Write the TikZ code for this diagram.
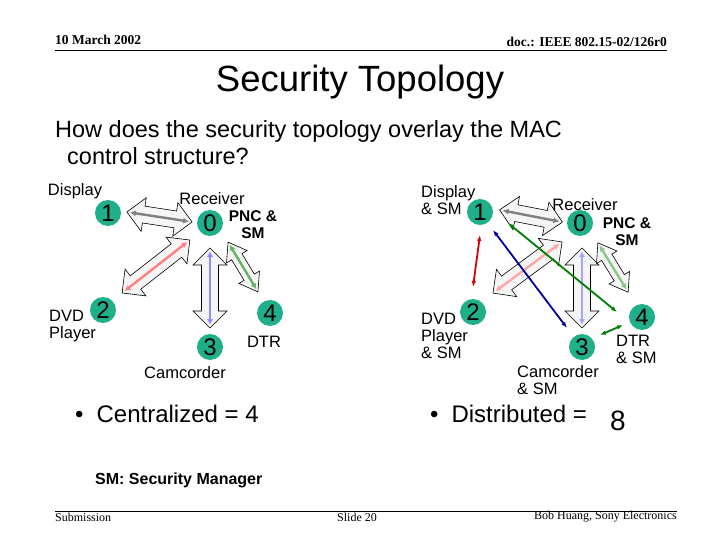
\documentclass[tikz,border=0pt]{standalone}
\usepackage{fontspec}
\setmainfont{Liberation Sans}
\newfontfamily\tms{Liberation Serif}
\usetikzlibrary{arrows.meta}
\definecolor{teal1}{HTML}{1FAF8A}
\tikzset{
 dev/.style={circle,fill=teal1,minimum size=26pt,inner sep=0pt,font=\fontsize{24}{24}\selectfont},
 lbl/.style={font=\fontsize{16.5}{17}\selectfont,align=left,inner sep=0pt},
 bold/.style={font=\bfseries\fontsize{15.5}{17}\selectfont,align=center,inner sep=0pt},
 blockst/.style={draw=black,fill=gray!8,line width=0.6pt},
 tip/.style={line width=2.4pt,{Latex[length=6pt,width=6pt]}-{Latex[length=6pt,width=6pt]}},
 hdr/.style={font=\tms\bfseries\fontsize{13.5}{14}\selectfont,inner sep=0pt},
 ftr/.style={font=\tms\fontsize{12}{13}\selectfont,inner sep=0pt}
}
\newcommand\barrow[5]{%
\begin{scope}[shift={#1},rotate=#2]
\draw[blockst] ({-#3},0) -- ({-#3+17},{2*#5}) -- ({-#3+17},#5) -- ({#3-17},#5) -- ({#3-17},{2*#5}) -- ({#3},0) -- ({#3-17},{-2*#5}) -- ({#3-17},{-#5}) -- ({-#3+17},{-#5}) -- ({-#3+17},{-2*#5}) -- cycle;
\draw[tip,#4] ({-#3+3},0) -- ({#3-3},0);
\end{scope}}
\begin{document}
\begin{tikzpicture}[x=1pt,y=-1pt]
\useasboundingbox (0,0) rectangle (720,540);
% header
\node[hdr,anchor=west] (h1) at (55,40) {10 March 2002};
\node[hdr,anchor=east] (h2) at (667,42) {doc.: IEEE 802.15-02/126r0};
\draw[line width=0.5pt] (55,50) -- (667,50);
\node (title) at (360,82) {\fontsize{36.5}{37}\selectfont Security Topology};
\node[anchor=west,align=left,inner sep=0pt,font=\fontsize{23.5}{27}\selectfont] (q) at (55,143) {How does the security topology overlay the MAC\\\hspace*{12pt}control structure?};
% left diagram
\barrow{(159.5,217)}{-8.7}{33}{gray}{8.5}
\barrow{(156,266.5)}{38}{43}{red!50}{8.5}
\barrow{(210,288)}{90}{40}{blue!45}{8.5}
\barrow{(243,267)}{-59}{29}{green!50!black!60}{6}
\node[dev] (l1) at (108,213) {1};
\node[dev] (l0) at (210,223) {0};
\node[dev] (l2) at (103,310) {2};
\node[dev] (l3) at (210,347) {3};
\node[dev] (l4) at (270,313) {4};
\node[lbl] (ld) at (75,191) {Display};
\node[lbl] (lr) at (212,199) {Receiver};
\node[bold] (lp) at (253,225) {PNC \&\\SM};
\node[lbl,anchor=west] (ldvd) at (49,326) {DVD\\Player};
\node[lbl] (ldtr) at (264,342) {DTR};
\node[lbl] (lc) at (185,373) {Camcorder};
% right diagram
\barrow{(531,216)}{-11}{32}{gray}{8.5}
\barrow{(527.5,267.5)}{36.5}{43}{red!35}{8.5}
\barrow{(582,288)}{90}{40}{blue!35}{8.5}
\barrow{(613,267.5)}{-58.5}{29}{green!50!black!45}{6}
\node[dev] (r1) at (480,212) {1};
\node[dev] (r0) at (580,223) {0};
\node[dev] (r2) at (473,312) {2};
\node[dev] (r3) at (582,347) {3};
\node[dev] (r4) at (642,317) {4};
\coordinate (a1) at (480,235); \coordinate (a2) at (473,287);
\coordinate (b1) at (493,230); \coordinate (b2) at (567,328);
\coordinate (c1) at (508,223); \coordinate (c2) at (617,312);
\coordinate (d1) at (600,335); \coordinate (d2) at (623,325);
\draw[line width=1.8pt,red!85!black,{Latex[length=6pt]}-{Latex[length=6pt]}] (a1) -- (a2);
\draw[line width=1.8pt,blue!60!black,{Latex[length=6pt]}-{Latex[length=6pt]}] (b1) -- (b2);
\draw[line width=1.8pt,green!50!black,{Latex[length=6pt]}-{Latex[length=6pt]}] (c1) -- (c2);
\draw[line width=1.8pt,green!50!black,{Latex[length=6pt]}-{Latex[length=6pt]}] (d1) -- (d2);
\node[lbl,anchor=west] (rd) at (421,200) {Display\\\& SM};
\node[lbl] (rr) at (585,205) {Receiver};
\node[bold] (rp) at (627,232) {PNC \&\\SM};
\node[lbl,anchor=west] (rdvd) at (421,336) {DVD\\Player\\\& SM};
\node[lbl,anchor=west] (rdtr) at (616,349) {DTR\\\& SM};
\node[lbl,anchor=west] (rc) at (517,380) {Camcorder\\\& SM};
% bullets
\node[anchor=west,inner sep=0pt,font=\fontsize{24}{26}\selectfont] (bc) at (75,414) {•\hspace{13pt}Centralized = 4};
\node[anchor=west,inner sep=0pt,font=\fontsize{24}{26}\selectfont] (bd) at (430,414) {•\hspace{13pt}Distributed =};
\node[inner sep=0pt,font=\fontsize{28}{28}\selectfont] (b8) at (618,421) {8};
\node[anchor=west,inner sep=0pt,font=\bfseries\fontsize{16}{17}\selectfont] (sm) at (95,480) {SM: Security Manager};
% footer
\draw[line width=0.5pt] (55,511) -- (677,511);
\node[ftr,anchor=west] (f1) at (55,517) {Submission};
\node[ftr] (f2) at (357,517) {Slide 20};
\node[ftr,anchor=east] (f3) at (677,517) {Bob Huang, Sony Electronics};
\end{tikzpicture}
\end{document}
